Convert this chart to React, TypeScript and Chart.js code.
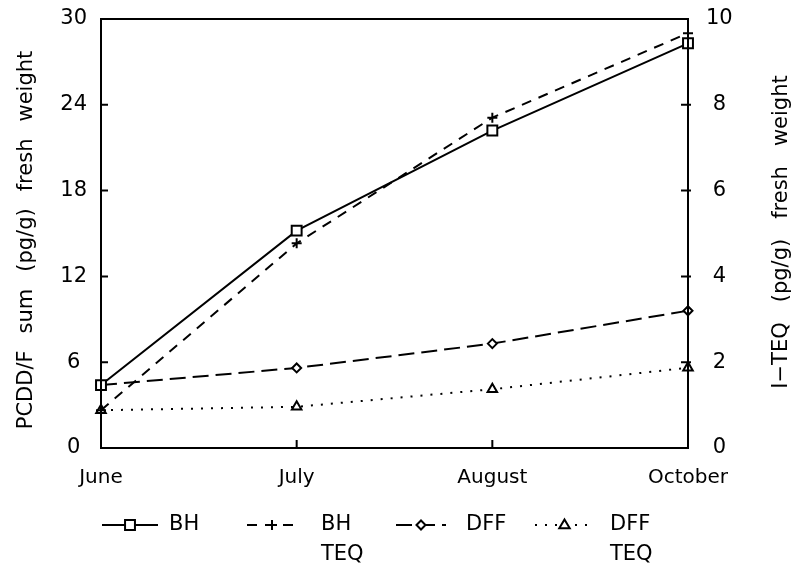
import React, { useEffect, useRef } from 'react';
import { Chart, registerables } from 'chart.js';

Chart.register(...registerables);

const months = ['June', 'July', 'August', 'October'];
const bhSum = [4.4, 15.2, 22.2, 28.3];
const bhTeq = [0.88, 4.77, 7.7, 9.67];
const dffSum = [4.4, 5.6, 7.3, 9.6];
const dffTeq = [0.88, 0.96, 1.37, 1.87];
const leftTicks = [0, 6, 12, 18, 24, 30];
const rightTicks = [0, 2, 4, 6, 8, 10];
const legendLabels = [['BH'], ['BH', 'TEQ'], ['DFF'], ['DFF', 'TEQ']];
const leftTitle = ['PCDD/F', 'sum', '(pg/g)', 'fresh', 'weight'];
const rightTitle = ['I\u2212TEQ', '(pg/g)', 'fresh', 'weight'];

const FONT = '"DejaVu Sans", Verdana, sans-serif';
const W = 793;
const H = 566;

function drawMarker(ctx: CanvasRenderingContext2D, style: string, x: number, y: number, r: number) {
  ctx.beginPath();
  if (style === 'rect') {
    const s = Math.SQRT1_2 * r;
    ctx.rect(x - s, y - s, 2 * s, 2 * s);
    ctx.fillStyle = '#fff';
    ctx.fill();
    ctx.stroke();
  } else if (style === 'cross') {
    ctx.moveTo(x - r, y);
    ctx.lineTo(x + r, y);
    ctx.moveTo(x, y - r);
    ctx.lineTo(x, y + r);
    ctx.stroke();
  } else if (style === 'rectRot') {
    ctx.moveTo(x - r, y);
    ctx.lineTo(x, y - r);
    ctx.lineTo(x + r, y);
    ctx.lineTo(x, y + r);
    ctx.closePath();
    ctx.fillStyle = '#fff';
    ctx.fill();
    ctx.stroke();
  } else if (style === 'triangle') {
    ctx.moveTo(x, y - r);
    ctx.lineTo(x + r * 0.95, y + r * 0.6);
    ctx.lineTo(x - r * 0.95, y + r * 0.6);
    ctx.closePath();
    ctx.fillStyle = '#fff';
    ctx.fill();
    ctx.stroke();
  }
}

function drawVerticalWords(ctx: CanvasRenderingContext2D, words: string[], cx: number, cy: number, gap: number) {
  ctx.save();
  ctx.translate(cx, cy);
  ctx.rotate(-Math.PI / 2);
  ctx.font = `21px ${FONT}`;
  ctx.fillStyle = '#000';
  ctx.textBaseline = 'middle';
  ctx.textAlign = 'left';
  const widths = words.map((w) => ctx.measureText(w).width);
  const total = widths.reduce((a, b) => a + b, 0) + gap * (words.length - 1);
  let x = -total / 2;
  words.forEach((w, i) => {
    ctx.fillText(w, x, 0);
    x += widths[i] + gap;
  });
  ctx.restore();
}

const decor = {
  id: 'decor',
  afterDatasetsDraw(chart: any) {
    const { ctx, chartArea: a, scales } = chart;
    ctx.save();
    ctx.strokeStyle = '#000';
    ctx.lineWidth = 2;
    ctx.setLineDash([]);
    ctx.strokeRect(a.left, a.top, a.right - a.left, a.bottom - a.top);
    ctx.beginPath();
    leftTicks.slice(1, -1).forEach((v) => {
      const y = scales.y.getPixelForValue(v);
      ctx.moveTo(a.left, y);
      ctx.lineTo(a.left + 7, y);
    });
    rightTicks.slice(1, -1).forEach((v) => {
      const y = scales.y1.getPixelForValue(v);
      ctx.moveTo(a.right - 7, y);
      ctx.lineTo(a.right + 3, y);
    });
    for (let i = 1; i < months.length - 1; i++) {
      const x = scales.x.getPixelForValue(i);
      ctx.moveTo(x, a.bottom);
      ctx.lineTo(x, a.bottom - 8);
    }
    ctx.stroke();

    drawVerticalWords(ctx, leftTitle, 27, 240, 17);
    drawVerticalWords(ctx, rightTitle, 782, 232, 20);

    // legend
    const rowY = 525;
    const samples = [
      { x0: 102, x1: 158, text: 169 },
      { x0: 247, x1: 297, text: 321 },
      { x0: 396, x1: 446, text: 466 },
      { x0: 535, x1: 594, text: 610 },
    ];
    chart.data.datasets.forEach((ds: any, i: number) => {
      const s = samples[i];
      ctx.save();
      ctx.strokeStyle = '#000';
      ctx.lineWidth = 2;
      ctx.setLineDash(ds.borderDash || []);
      ctx.beginPath();
      ctx.moveTo(s.x0, rowY);
      ctx.lineTo(s.x1, rowY);
      ctx.stroke();
      ctx.setLineDash([]);
      drawMarker(ctx, ds.pointStyle, (s.x0 + s.x1) / 2, rowY, ds.pointRadius);
      ctx.fillStyle = '#000';
      ctx.font = `21px ${FONT}`;
      ctx.textBaseline = 'middle';
      ctx.textAlign = 'left';
      legendLabels[i].forEach((t, k) => ctx.fillText(t, s.text, rowY + k * 30));
      ctx.restore();
    });
    ctx.restore();
  },
};

export default function App() {
  const ref = useRef<HTMLCanvasElement>(null);
  useEffect(() => {
    if (!ref.current) return;
    const common = {
      borderColor: '#000',
      pointBorderColor: '#000',
      pointBackgroundColor: '#fff',
      borderWidth: 2,
      pointBorderWidth: 2,
      tension: 0,
      fill: false,
    };
    const noPad = (s: any) => { s.paddingTop = 0; s.paddingBottom = 0; };
    const chart = new Chart(ref.current, {
      type: 'line',
      data: {
        labels: months,
        datasets: [
          { ...common, label: 'BH', data: bhSum, yAxisID: 'y', pointStyle: 'rect', pointRadius: 7 },
          { ...common, label: 'BH TEQ', data: bhTeq, yAxisID: 'y1', pointStyle: 'cross', pointRadius: 5, borderDash: [10, 8] },
          { ...common, label: 'DFF', data: dffSum, yAxisID: 'y', pointStyle: 'rectRot', pointRadius: 4.5, borderDash: [16, 7] },
          { ...common, label: 'DFF TEQ', data: dffTeq, yAxisID: 'y1', pointStyle: 'triangle', pointRadius: 5.5, borderDash: [2, 8] },
        ],
      } as any,
      options: {
        responsive: false,
        animation: false,
        devicePixelRatio: 1,
        layout: { padding: { top: 19, left: 0, right: 0, bottom: 0 } },
        plugins: { legend: { display: false }, tooltip: { enabled: false } },
        scales: {
          x: {
            type: 'category',
            offset: false,
            grid: { display: false, drawTicks: false },
            border: { display: false },
            ticks: { color: '#000', font: { family: FONT, size: 20 }, padding: 18, maxRotation: 0, autoSkip: false },
            afterFit: (s: any) => { s.height = 118; },
          },
          y: {
            position: 'left',
            min: 0,
            max: 30,
            grid: { display: false, drawTicks: false },
            border: { display: false },
            ticks: { color: '#000', font: { family: FONT, size: 21 }, padding: 14, crossAlign: 'center' },
            afterBuildTicks: (s: any) => { s.ticks = leftTicks.map((v) => ({ value: v })); },
            afterFit: (s: any) => { s.width = 101; noPad(s); },
          },
          y1: {
            position: 'right',
            min: 0,
            max: 10,
            grid: { display: false, drawTicks: false },
            border: { display: false },
            ticks: { color: '#000', font: { family: FONT, size: 21 }, padding: 18, crossAlign: 'center' },
            afterBuildTicks: (s: any) => { s.ticks = rightTicks.map((v) => ({ value: v })); },
            afterFit: (s: any) => { s.width = 105; noPad(s); },
          },
        },
      } as any,
      plugins: [decor],
    });
    return () => chart.destroy();
  }, []);
  return (
    <div style={{ position: 'fixed', left: 0, top: 0, width: W, height: H }}>
      <canvas ref={ref} width={W} height={H} style={{ width: W, height: H, display: 'block' }} />
    </div>
  );
}
